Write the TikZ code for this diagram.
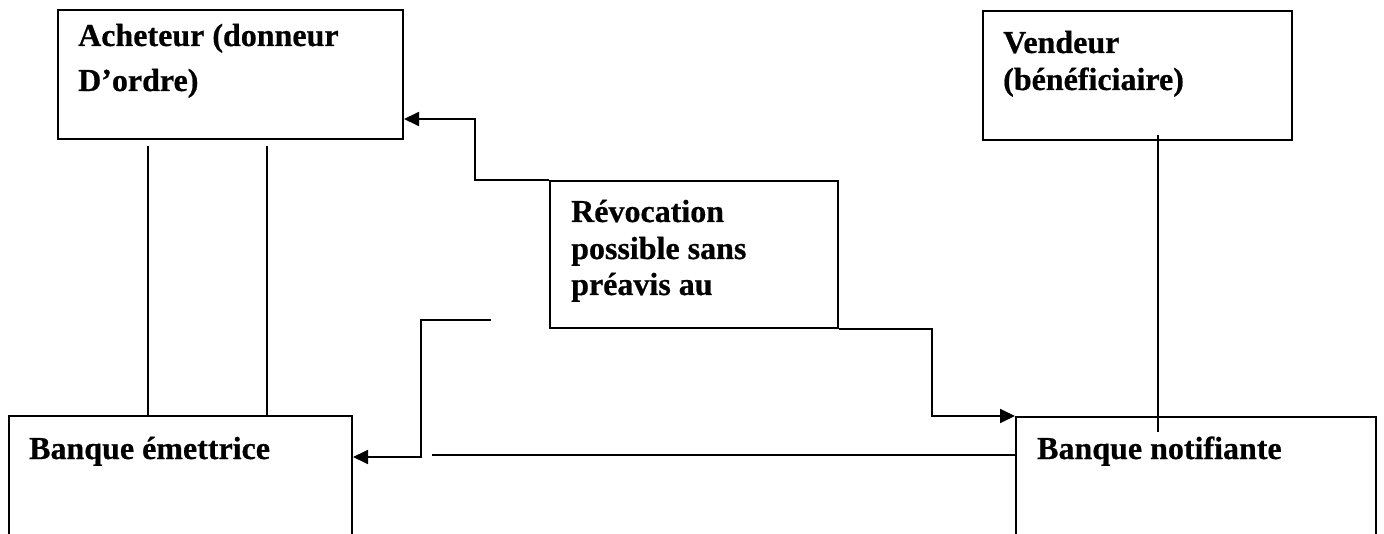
\documentclass[tikz,border=0pt]{standalone}
\usepackage{fontspec}
\setmainfont{Liberation Serif}[BoldFeatures={FakeBold=0.6}]
\usetikzlibrary{arrows.meta,calc}
\begin{document}
\begin{tikzpicture}[x=1pt,y=-1pt,
  boxnode/.style={draw=black,line width=2pt,rectangle,inner sep=0pt,anchor=north west},
  txt/.style={anchor=base west,inner sep=0pt,font=\fontsize{32}{37}\selectfont\bfseries},
  conn/.style={draw=black,line width=1.8pt},
  arr/.style={conn,-{Triangle[length=15pt,width=14pt]}}]
\clip (0,0) rectangle (1384,534);
\fill[white] (0,0) rectangle (1384,534);
% boxes
\node[boxnode,minimum width=345pt,minimum height=129pt] (ach) at (57,9) {};
\node[boxnode,minimum width=309pt,minimum height=129pt] (ven) at (982,10) {};
\node[boxnode,minimum width=288pt,minimum height=147pt] (rev) at (549,180) {};
\node[boxnode,minimum width=343pt,minimum height=160pt] (bem) at (8,415) {};
\node[boxnode,minimum width=360pt,minimum height=160pt] (bno) at (1015,416) {};
% texts
\node[txt] (t1) at (78,46) {Acheteur (donneur};
\node[txt] (t2) at (78,91) {D’ordre)};
\node[txt] (t3) at (1003,53) {Vendeur};
\node[txt] (t4) at (1003,90) {(bénéficiaire)};
\node[txt] (t5) at (571,222) {Révocation};
\node[txt] (t6) at (571,259) {possible sans};
\node[txt] (t7) at (571,295) {préavis au};
\node[txt] (t8) at (29,459) {Banque émettrice};
\node[txt] (t9) at (1037,459) {Banque notifiante};
% connectors
\draw[arr] (rev.north west) -- ++(-74,0) |- ($(ach.south east)+(0,-21)$);
\draw[arr] (rev.south east) -- ++(93,0) |- (bno.north west);
\coordinate (h1) at (432,455);
\draw[conn] ($(bno.north west)+(0,39)$) -- (h1);
\coordinate (r1) at (491,320);
\draw[arr] (r1) -- ++(-70,0) |- ($(bem.north east)+(0,42)$);
\coordinate (a1) at (148,146);
\coordinate (a2) at (267,146);
\draw[conn] (a1) -- (a1 |- bem.north);
\draw[conn] (a2) -- (a2 |- bem.north);
\coordinate (v1) at (1158,135);
\coordinate (v2) at (1158,432);
\draw[conn] (v1) -- (v2);
\end{tikzpicture}
\end{document}
